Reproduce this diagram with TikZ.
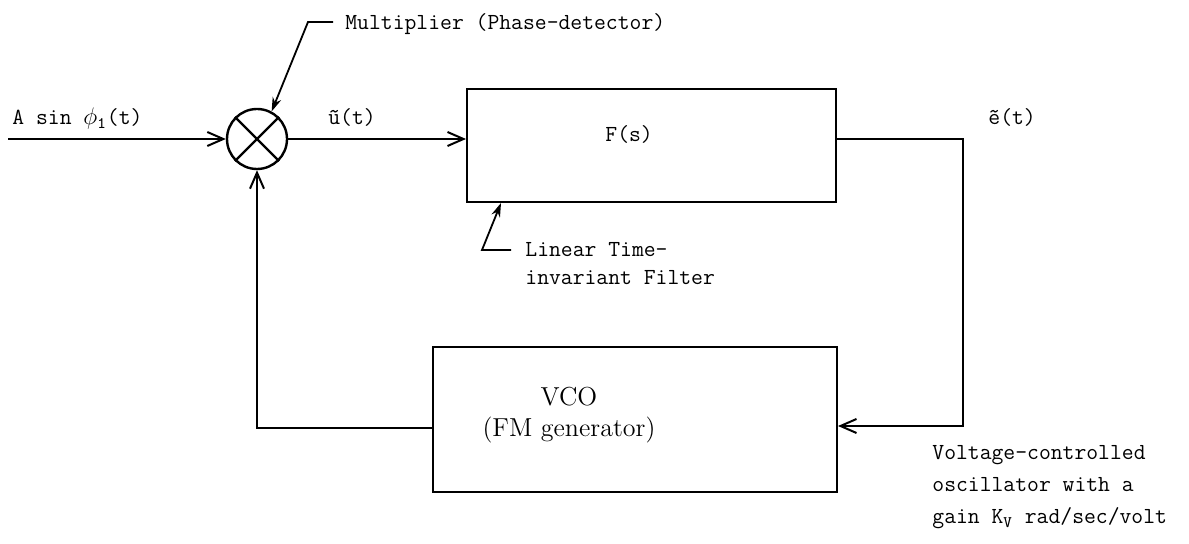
\documentclass[tikz,border=0pt]{standalone}
\usepackage{fontspec}
\usetikzlibrary{arrows.meta, positioning}

\tikzset{
  block/.style={draw, line width=1pt, rectangle, inner sep=0pt},
  sig/.style={line width=1pt, -{Straight Barb[length=8pt,width=7pt]}},
  lead/.style={line width=0.9pt, -{Stealth[length=7pt,width=4.5pt]}},
  tt/.style={font=\fontsize{11.5}{14}\ttfamily, inner sep=0pt, anchor=base west, align=left},
}

\begin{document}
\begin{tikzpicture}[x=0.5pt, y=-0.5pt]
    % Background
    \useasboundingbox (0,0) rectangle (1189,544);

    % blocks
    \node[draw, circle, line width=1.2pt, minimum size=30pt, inner sep=0pt] (mult) at (257,139) {};
    \draw[line width=1.2pt] (mult.north west) -- (mult.south east) (mult.north east) -- (mult.south west);

    \node[block, minimum width=184.5pt, minimum height=56.5pt] (filt) at (651.5,145.5) {};
    \node[tt] (filttxt) at (605,142) {F(s)};

    \node[block, minimum width=202pt, minimum height=72.5pt] (vco) at (635,419.5) {};
    \node[font=\fontsize{13}{15.5}\selectfont, align=center, inner sep=0pt, anchor=base] (vcotxt) at (569,437) {VCO\\(FM generator)};

    % labels
    \node[tt] (inlbl) at (12,125) {A sin $\phi_{\mathtt{1}}$(t)};
    \node[tt] (ulbl) at (328,125) {\~u(t)};
    \node[tt] (elbl) at (988,125) {\~e(t)};
    \node[tt] (multlbl) at (345,30) {Multiplier (Phase-detector)};
    \node[tt] (filtlbl) at (525,285) {Linear Time-\\invariant Filter};
    \node[tt, font=\fontsize{11.5}{16}\ttfamily] (vcolbl) at (932,524) {Voltage-controlled\\oscillator with a\\gain K$_{\mathtt{V}}$ rad/sec/volt};

    % signal path
    \coordinate (in) at (8,139);
    \coordinate (ec) at (963,139);
    \coordinate (ed) at (963,426);
    \coordinate (fb) at (257,428);
    \draw[sig] (in) -- (mult.west);
    \draw[sig] (mult.east) -- (mult.east -| filt.west);
    \draw[sig] (filt.east |- ec) -- (ec) -- (ed) -- (ed -| vco.east);
    \draw[sig] (fb -| vco.west) -- (fb) -- (mult.south);

    % leaders
    \coordinate (ml) at (333,22);
    \coordinate (fl) at (511,250);
    \draw[lead] (ml) -- ++(-25,0) -- (mult.62);
    \draw[lead] (fl) -- ++(-29,0) -- ([xshift=17.5pt]filt.south west);

  \end{tikzpicture}
\end{document}
